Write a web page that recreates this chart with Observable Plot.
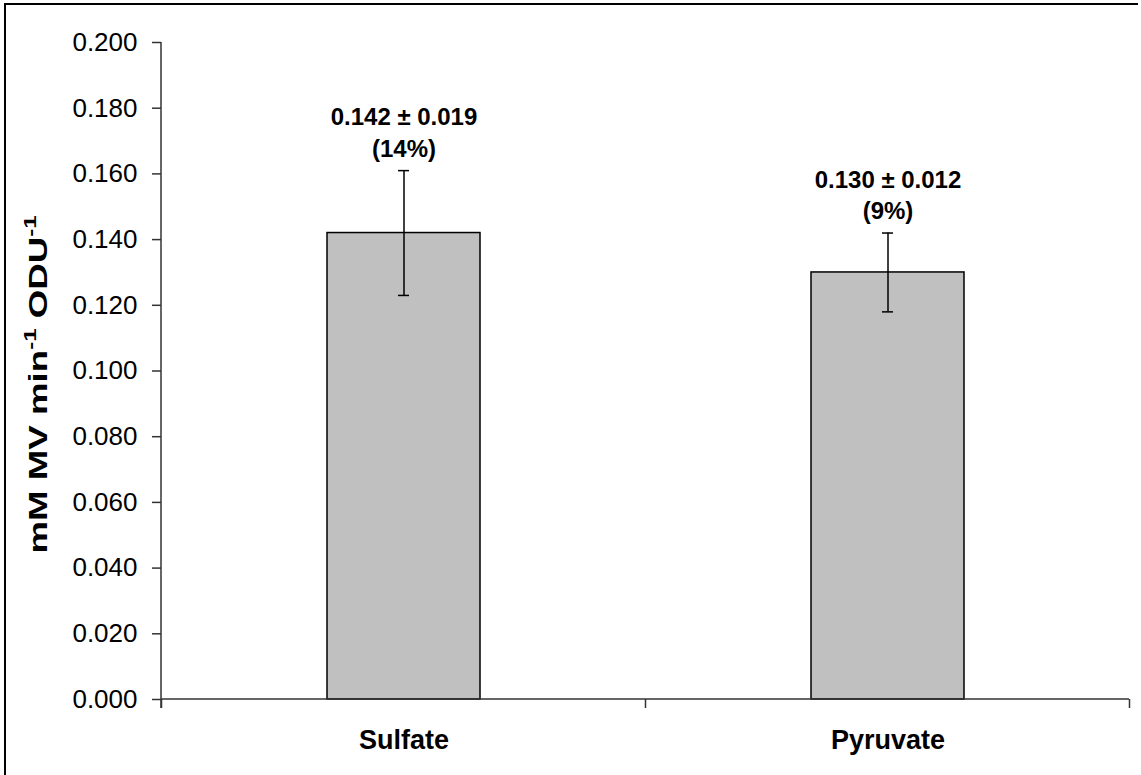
<!DOCTYPE html>
<html><head><meta charset="utf-8">
<script src="https://cdn.jsdelivr.net/npm/d3@7"></script>
<script src="https://cdn.jsdelivr.net/npm/@observablehq/plot@0.6"></script>
<style>
body{margin:0;background:#fff;}
#wrap{position:relative;width:1141px;height:775px;overflow:hidden;}
#frame{position:absolute;left:4px;top:3px;width:1132px;height:790px;border-top:2px solid #000;border-left:2px solid #000;pointer-events:none;}
#wrap svg{position:absolute;left:0;top:0;}
</style></head><body><div id="wrap"><div id="frame"></div></div>
<script>
const categories = ["Sulfate", "Pyruvate"];
const means = [0.142, 0.130];
const sds = [0.019, 0.012];
const cvs = ["14%", "9%"];
const yTicks = [0, 0.02, 0.04, 0.06, 0.08, 0.10, 0.12, 0.14, 0.16, 0.18, 0.20];
const yTitleParts = [["mM MV min", false], ["-1", true], [" ODU", false], ["-1", true]];

const data = categories.map((c, i) => ({
  cat: c, mean: means[i], lo: means[i] - sds[i], hi: means[i] + sds[i],
  label: `${means[i].toFixed(3)} ± ${sds[i].toFixed(3)}\n(${cvs[i]})`
}));

const axisColor = "#333";

function axesLines(index, scales) {
  const x = scales.x, y = scales.y;
  const [xl, xr] = x.range();
  const y0 = y(0), yTop = y(0.2);
  const step = x.step(), bw = x.bandwidth();
  const edges = [x(categories[0]) - (step - bw) / 2, ...categories.map(c => x(c) + bw + (step - bw) / 2)];
  const g = d3.create("svg:g").attr("stroke", axisColor).attr("stroke-width", 1.5).attr("fill", "none");
  g.append("line").attr("x1", xl).attr("x2", xl).attr("y1", yTop).attr("y2", y0 + 9);
  g.append("line").attr("x1", xl).attr("x2", xr).attr("y1", y0).attr("y2", y0);
  for (const e of edges) g.append("line").attr("x1", e).attr("x2", e).attr("y1", y0).attr("y2", y0 + 9);
  return g.node();
}

function yTitle(index, scales, values, dimensions) {
  const [ya, yb] = scales.y.range();
  const cy = (ya + yb) / 2 + 14;
  const g = d3.create("svg:g");
  const t = g.append("text")
    .attr("transform", `translate(${dimensions.marginLeft * 0.29},${cy}) rotate(-90)`)
    .attr("text-anchor", "middle")
    .attr("font-weight", "bold")
    .attr("font-size", 26)
    .attr("textLength", 338)
    .attr("lengthAdjust", "spacingAndGlyphs")
    .attr("fill", "#000");
  for (const [s, sup] of yTitleParts) {
    const sp = t.append("tspan").text(s);
    if (sup) sp.attr("font-size", 17).attr("dy", -11);
    else sp.attr("dy", t.selectAll("tspan").size() > 1 ? 11 : 0);
  }
  return g.node();
}

const chart = Plot.plot({
  width: 1141, height: 775,
  marginLeft: 161, marginRight: 12, marginTop: 42, marginBottom: 76,
  style: {fontFamily: "'Liberation Sans', Arial, Helvetica, sans-serif", background: "transparent", color: "#000"},
  x: {domain: categories, paddingInner: 0.684, paddingOuter: 0.342, label: null},
  y: {domain: [0, 0.2], label: null},
  marks: [
    Plot.barY(data, {x: "cat", y: "mean", fill: "#c0c0c0", stroke: "#000", strokeWidth: 1.5}),
    Plot.ruleX(data, {x: "cat", y1: "lo", y2: "hi", stroke: "#000", strokeWidth: 1.5}),
    Plot.tickY(data, {x: "cat", y: "lo", stroke: "#000", strokeWidth: 1.5, insetLeft: 71, insetRight: 71}),
    Plot.tickY(data, {x: "cat", y: "hi", stroke: "#000", strokeWidth: 1.5, insetLeft: 71, insetRight: 71}),
    Plot.text(data, {x: "cat", y: "hi", text: "label", lineAnchor: "bottom", dy: -14, fontSize: 24, fontWeight: "bold", lineHeight: 1.3, fill: "#000"}),
    Plot.axisY({ticks: yTicks, tickFormat: d3.format(".3f"), tickSize: 9, tickPadding: 15, fontSize: 26, label: null, stroke: axisColor, strokeWidth: 1.5}),
    Plot.axisX({tickSize: 0, tickPadding: 30, fontSize: 27, fontWeight: "bold", label: null}),
    axesLines,
    yTitle
  ]
});
document.getElementById("wrap").appendChild(chart);
</script></body></html>
